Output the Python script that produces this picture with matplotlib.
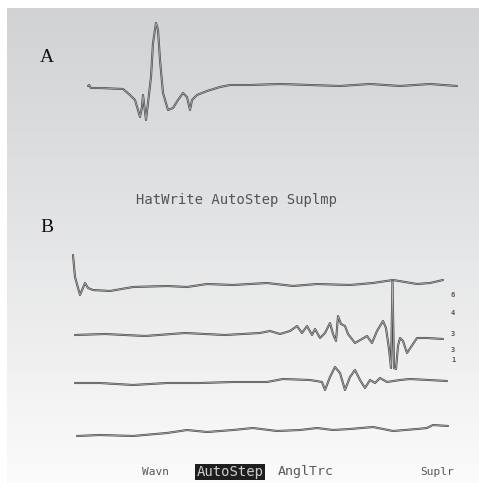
import numpy as np
import matplotlib
matplotlib.use("Agg")
import matplotlib.pyplot as plt

W, H = 479, 483

# ---------------- data ----------------
# Panel A: single evoked waveform (time units, amplitude units)
a_t = [8, 9, 11, 20, 43, 50, 55, 58, 60, 62, 63, 66, 68, 71, 73, 76, 78, 80, 83, 88,
       93, 98, 103, 107, 110, 112, 117, 127, 140, 150, 170, 200, 230, 260, 290, 320, 350, 377]
a_v = [2, 3, 0, 0, -1, -7, -12, -22, -29, -19, -7, -32, -15, 11, 45, 65, 58, 28, -5, -22,
       -20, -12, -5, -9, -22, -12, -7, -3, 1, 3, 3, 4, 3, 2, 4, 2, 4, 2]

# Panel B: four traces
b1_t = [8, 10, 15, 20, 23, 28, 45, 68, 102, 122, 142, 168, 202, 228, 252, 285, 308, 328, 352, 365, 378]
b1_v = [32, 10, -8, 4, -1, -3, -4, 0, 1, 0, 3, 2, 4, 1, 3, 2, 4, 7, 3, 4, 7]

b2_t = [10, 40, 80, 120, 160, 195, 205, 215, 225, 232, 237, 242, 247, 250, 255, 260, 265, 268,
        271, 273, 276, 280, 283, 290, 297, 302, 307, 312, 318, 321, 324, 326, 327.5, 329,
        331, 333, 335, 338, 342, 352, 362, 378]
b2_v = [-1, 0, -2, 1, -1, 1, 3, 0, 3, 8, 1, 8, -1, 5, -4, 1, 11, 0, -7, 18, 10, 8, 0, -9,
        -5, -2, -9, 3, 13, 6, -15, -34, 53, -34, -35, -12, -4, -7, -19, -4, -4, -5]

b3_t = [10, 35, 68, 102, 135, 168, 202, 218, 245, 257, 260, 265, 270, 275, 280, 285, 290,
        295, 300, 305, 310, 315, 322, 335, 345, 382]
b3_v = [-2, -2, -4, -2, -2, -1, -1, 2, 1, -1, -9, 4, 14, 8, -9, 4, 11, 1, -7, 1, -2, 3, -1, 1, 2, 0]

b4_t = [12, 35, 68, 102, 122, 142, 168, 188, 212, 235, 252, 268, 285, 308, 328, 352, 362, 368, 383]
b4_v = [-5, -4, -5, -2, 1, -1, 1, 3, 0, 1, 3, 1, 2, 4, 0, 2, 3, 6, 5]

b_series = [(b1_t, b1_v), (b2_t, b2_v), (b3_t, b3_v), (b4_t, b4_v)]
b_offsets = [158, 111, 64, 14]          # channel baselines

right_ticks = ["6", "4", "3", "3", "1"]
right_tick_pos = [150, 132, 111, 95, 85]

menu_top = "HatWrite AutoStep Suplmp"
menu_bottom = ["Wavn", "AutoStep", "AnglTrc", "Suplr"]

# ---------------- figure ----------------
fig = plt.figure(figsize=(W / 100, H / 100), dpi=100)
fig.patch.set_facecolor("white")


def px_axes(x0, y0, x1, y1, **kw):
    return fig.add_axes([x0 / W, 1 - y1 / H, (x1 - x0) / W, (y1 - y0) / H], **kw)


# background gradient panel
bg = px_axes(7, 8, W, H)
grad = np.linspace(0, 1, 256).reshape(-1, 1)
top_c = np.array([0.822, 0.827, 0.835])
bot_c = np.array([0.985, 0.985, 0.985])
img = top_c + (bot_c - top_c) * (grad ** 1.1)[..., None] * np.ones((1, 1, 3))
bg.imshow(img, aspect="auto", extent=[0, 1, 0, 1], origin="upper")
bg.set_xlim(0, 1)
bg.set_ylim(0, 1)
bg.axis("off")


def trace(ax, t, v):
    ax.plot(t, v, color="#4a4a4a", lw=1.5, solid_capstyle="round", solid_joinstyle="round")
    ax.plot(t, v, color="white", lw=0.5, alpha=0.6, solid_joinstyle="round")


# Panel A
axA = px_axes(80, 10, 465, 130)
axA.patch.set_alpha(0)
trace(axA, a_t, a_v)
axA.set_xlim(0, 385)
axA.set_ylim(-42, 78)
axA.axis("off")

# Panel B
axB = px_axes(65, 245, 465, 445)
axB.patch.set_alpha(0)
for (t, v), off in zip(b_series, b_offsets):
    trace(axB, t, np.array(v) + off)
axB.set_xlim(0, 400)
axB.set_ylim(0, 200)
axB.axis("off")
for lab, pos in zip(right_ticks, right_tick_pos):
    axB.text(388, pos, lab, fontsize=5, color="#555555", ha="center", va="center",
             family="DejaVu Sans Mono", fontweight="bold")

# panel letters
fig.text(40 / W, 1 - 57 / H, "A", fontsize=14, family="Liberation Serif",
         ha="left", va="center", color="#111111")
fig.text(40 / W, 1 - 228 / H, "B", fontsize=14, family="Liberation Serif",
         ha="left", va="center", color="#111111")

# menu texts
fig.text(237 / W, 1 - 200 / H, menu_top, fontsize=10, family="DejaVu Sans Mono",
         ha="center", va="center", color="#3c3c3c", alpha=0.85)

ypos = 1 - 472 / H
fig.text(156 / W, ypos, menu_bottom[0], fontsize=8, family="DejaVu Sans Mono",
         ha="center", va="center", color="#3c3c3c", alpha=0.85)
fig.text(230 / W, ypos, menu_bottom[1], fontsize=10, family="DejaVu Sans Mono",
         ha="center", va="center", color="#cccccc",
         bbox=dict(boxstyle="square,pad=0.1", fc="#1e1e1e", ec="none"))
fig.text(306 / W, ypos, menu_bottom[2], fontsize=9.5, family="DejaVu Sans Mono",
         ha="center", va="center", color="#3c3c3c", alpha=0.85)
fig.text(437 / W, ypos, menu_bottom[3], fontsize=8, family="DejaVu Sans Mono",
         ha="center", va="center", color="#3c3c3c", alpha=0.85)

fig.savefig("out.png", dpi=100)
